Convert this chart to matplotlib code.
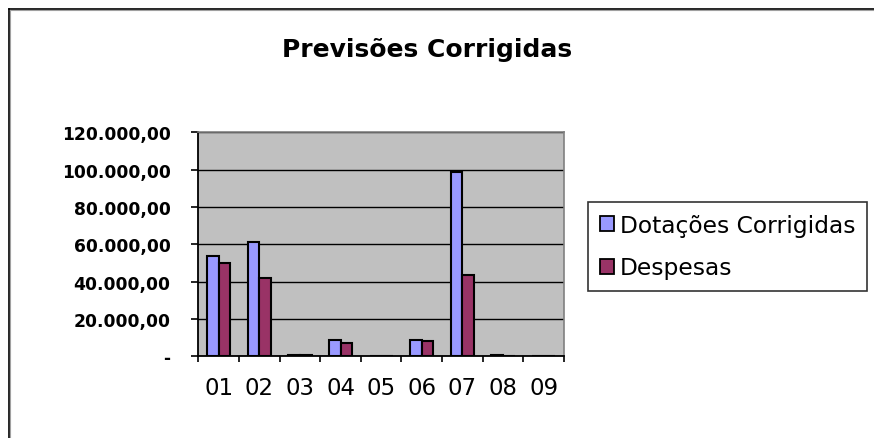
import matplotlib
matplotlib.use("Agg")
import matplotlib.pyplot as plt
from matplotlib.patches import Patch
from matplotlib.lines import Line2D
import numpy as np

categories = ["01", "02", "03", "04", "05", "06", "07", "08", "09"]
dotacoes = [53500, 61300, 500, 8700, 0, 8700, 98700, 500, 0]
despesas = [49800, 42100, 500, 7100, 0, 8000, 43700, 0, 0]
yticks = [0, 20000, 40000, 60000, 80000, 100000, 120000]
ytick_labels = ["-", "20.000,00", "40.000,00", "60.000,00", "80.000,00", "100.000,00", "120.000,00"]

W, H = 874, 439
fig = plt.figure(figsize=(W / 100, H / 100), dpi=100)
fig.patch.set_facecolor("white")

# outer chart border (clipped at right/bottom)
fig.add_artist(Line2D([8.5 / W, 8.5 / W], [0, 1 - 9.5 / H], transform=fig.transFigure, color="black", lw=1.2))
fig.add_artist(Line2D([8.5 / W, 1], [1 - 9.5 / H, 1 - 9.5 / H], transform=fig.transFigure, color="black", lw=1.2))
fig.add_artist(Line2D([9.8 / W, 9.8 / W], [0, 1 - 10.8 / H], transform=fig.transFigure, color="#a0a0a0", lw=0.8))
fig.add_artist(Line2D([9.8 / W, 1], [1 - 10.8 / H, 1 - 10.8 / H], transform=fig.transFigure, color="#a0a0a0", lw=0.8))

left, right = 198.3, 564.0
top, bottom = 133.3, 357.3
ax = fig.add_axes([left / W, 1 - bottom / H, (right - left) / W, (bottom - top) / H])
ax.set_facecolor("#C0C0C0")

x = np.arange(len(categories))
bw = 0.286
ax.bar(x - bw / 2, dotacoes, width=bw, color="#9999FF", edgecolor="black", linewidth=1.5, zorder=3)
ax.bar(x + bw / 2, despesas, width=bw, color="#993366", edgecolor="black", linewidth=1.5, zorder=3)

ax.set_xlim(-0.5, len(categories) - 0.5)
ax.set_ylim(0, 120000)
ax.set_yticks(yticks)
ax.set_yticklabels(ytick_labels, fontsize=12.3, fontweight="bold", family="DejaVu Sans")
ax.yaxis.grid(True, color="black", lw=1.0, zorder=1)
ax.set_axisbelow(True)
ax.set_xticks(x)
ax.set_xticklabels(categories, fontsize=16.5, family="DejaVu Sans")
ax.set_xticks(np.arange(len(categories) + 1) - 0.5, minor=True)
ax.tick_params(axis="x", which="major", length=0, pad=14.5)
ax.tick_params(axis="x", which="minor", length=4.5, width=1.2, direction="out")
ax.tick_params(axis="y", length=5, width=1.2, direction="out", pad=15)

for s in ["top", "right"]:
    ax.spines[s].set_color("#808080")
    ax.spines[s].set_linewidth(1.2)
for s in ["left", "bottom"]:
    ax.spines[s].set_color("black")
    ax.spines[s].set_linewidth(1.3)

fig.text(427 / W, 1 - 57 / H, "Previsões Corrigidas", ha="center", va="baseline",
         fontsize=18, fontweight="bold", family="DejaVu Sans")

handles = [Patch(facecolor="#9999FF", edgecolor="black", lw=1.3, label="Dotações Corrigidas"),
           Patch(facecolor="#993366", edgecolor="black", lw=1.3, label="Despesas")]
leg = fig.legend(handles=handles, loc="upper left",
                 bbox_to_anchor=(588 / W, 1 - 203 / H), bbox_transform=fig.transFigure,
                 prop={"family": "DejaVu Sans", "size": 16.8},
                 frameon=True, fancybox=False, handlelength=0.6, handleheight=0.6,
                 handletextpad=0.25, labelspacing=0.85, borderpad=0.5, borderaxespad=0)
leg.get_frame().set_edgecolor("black")
leg.get_frame().set_linewidth(1.2)

fig.savefig("out.png", dpi=100)
